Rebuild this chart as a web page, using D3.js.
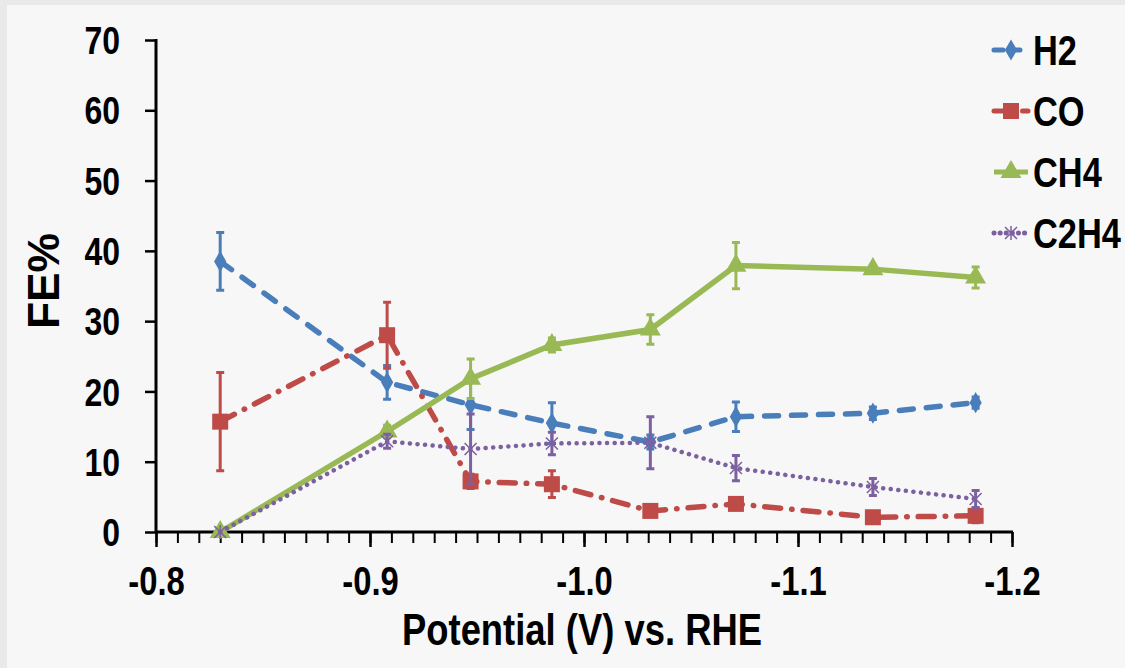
<!DOCTYPE html>
<html>
<head>
<meta charset="utf-8">
<script src="https://cdn.jsdelivr.net/npm/d3@7"></script>
<style>
  body { margin: 0; background: #e9e9e9; }
  svg { display: block; }
  text { font-family: "Liberation Sans", Arial, sans-serif; font-weight: bold; fill: #000; }
</style>
</head>
<body>
<div id="chart"></div>
<script>
// data
let potential = [-0.830, -0.908, -0.947, -0.985, -1.031, -1.071, -1.135, -1.183];
let h2 = [38.5, 21.3, 18.1, 15.5, 12.8, 16.4, 16.9, 18.4];
let h2Err = [4.1, 2.4, 3.5, 2.9, 1.0, 2.1, 0.9, 0.8];
let co = [15.7, 28.0, 7.2, 6.8, 3.0, 4.0, 2.1, 2.3];
let coErr = [7.0, 4.7, 1.0, 1.9, 0.8, 0.8, 0.7, 1.0];
let ch4 = [0, 14.3, 21.8, 26.6, 28.8, 37.9, 37.4, 36.2];
let ch4Err = [0, 0.9, 2.8, 1.0, 2.1, 3.3, 0.4, 1.5];
let c2h4 = [0, 12.9, 11.8, 12.6, 12.7, 9.1, 6.4, 4.7];
let c2h4Err = [0, 1.0, 5.0, 1.6, 3.7, 1.8, 1.2, 1.2];

let xTicks = [-0.8, -0.9, -1.0, -1.1, -1.2];
let yTicks = [0, 10, 20, 30, 40, 50, 60, 70];

let series = [
    { name: 'H2', values: h2, err: h2Err, color: '#4a7ebb', dash: '14,13', marker: 'diamond' },
    { name: 'CO', values: co, err: coErr, color: '#be4b48', dash: '16,11,0.5,11', marker: 'square' },
    { name: 'CH4', values: ch4, err: ch4Err, color: '#98b954', dash: null, marker: 'triangle' },
    { name: 'C2H4', values: c2h4, err: c2h4Err, color: '#7d60a0', dash: '0.1,7.5', marker: 'star' }
];

let svgWidth = 1125;
let svgHeight = 668;
// horizontal squeeze to mimic the narrow bold face of the original
let squeeze = 0.82;

let svg = d3.select('#chart').append('svg')
    .attr('width', svgWidth)
    .attr('height', svgHeight);

// inner panel
svg.append('rect')
    .attr('x', 7).attr('y', 5)
    .attr('width', svgWidth - 7).attr('height', svgHeight - 5)
    .attr('fill', '#f7f7f7');

let x = d3.scaleLinear().domain([-0.8, -1.2]).range([156, 1012]);
let y = d3.scaleLinear().domain([0, 70]).range([532, 40]);

// x axis: minor ticks then major ticks with labels
let minorTicks = d3.range(0, 41).map(i => -0.8 - i * 0.01);
svg.append('g')
    .attr('transform', `translate(0, ${y(0)})`)
    .call(d3.axisBottom(x).tickValues(minorTicks).tickSize(11).tickSizeOuter(0).tickFormat(''))
    .call(g => g.select('.domain').remove())
    .call(g => g.selectAll('line').attr('stroke', '#000').attr('stroke-width', 2));

let xAxis = svg.append('g')
    .attr('transform', `translate(0, ${y(0)})`)
    .call(d3.axisBottom(x).tickValues(xTicks).tickSize(15).tickSizeOuter(0));
xAxis.select('.domain').attr('stroke', '#000').attr('stroke-width', 3).attr('d', `M${x(-0.8) - 1},0H${x(-1.2) + 1}`);
xAxis.selectAll('line').attr('stroke', '#000').attr('stroke-width', 2.5);
xAxis.selectAll('text')
    .attr('y', 49).attr('dy', '0.35em')
    .attr('transform', `scale(${squeeze},1)`)
    .style('font-size', '40px')
    .text(d => d3.format('.1f')(d).replace('−', '-'));

// y axis
let yAxis = svg.append('g')
    .attr('transform', `translate(${x(-0.8)}, 0)`)
    .call(d3.axisLeft(y).tickValues(yTicks).tickSize(11).tickSizeOuter(0));
yAxis.select('.domain').attr('stroke', '#000').attr('stroke-width', 3).attr('d', `M0,${y(70) - 1}V${y(0)}`);
yAxis.selectAll('line').attr('stroke', '#000').attr('stroke-width', 2.5);
yAxis.selectAll('text')
    .attr('x', -36 / squeeze)
    .attr('dy', '0.35em')
    .attr('transform', `scale(${squeeze},1)`)
    .style('font-size', '39px');

// axis titles
svg.append('text')
    .attr('transform', `translate(59, 281) rotate(-90)`)
    .attr('text-anchor', 'middle')
    .attr('textLength', 96)
    .attr('lengthAdjust', 'spacingAndGlyphs')
    .style('font-size', '44px')
    .text('FE%');

svg.append('text')
    .attr('x', 582).attr('y', 645)
    .attr('text-anchor', 'middle')
    .attr('textLength', 360)
    .attr('lengthAdjust', 'spacingAndGlyphs')
    .style('font-size', '44px')
    .text('Potential (V) vs. RHE');

// marker drawing
function drawMarker(g, type, color, cx, cy) {
    if (type === 'diamond') {
        g.append('path')
            .attr('d', d3.symbol(d3.symbolDiamond, 130)())
            .attr('transform', `translate(${cx},${cy})`)
            .attr('fill', color);
    } else if (type === 'square') {
        g.append('rect')
            .attr('x', cx - 8).attr('y', cy - 8)
            .attr('width', 16).attr('height', 16)
            .attr('fill', color);
    } else if (type === 'triangle') {
        g.append('path')
            .attr('d', d3.symbol(d3.symbolTriangle, 190)())
            .attr('transform', `translate(${cx},${cy})`)
            .attr('fill', color);
    } else {
        g.append('path')
            .attr('d', 'M-6,-6L6,6M-6,6L6,-6M0,-7V7')
            .attr('transform', `translate(${cx},${cy})`)
            .attr('stroke', color)
            .attr('stroke-width', 1.5)
            .attr('fill', 'none');
    }
}

let line = d3.line()
    .x(d => x(d[0]))
    .y(d => y(d[1]));

// draw each series: lines, error bars, markers
series.forEach(function (s) {
    let pts = potential.map((p, i) => [p, s.values[i], s.err[i]]);
    let g = svg.append('g');

    g.append('path')
        .datum(pts)
        .attr('d', line)
        .attr('fill', 'none')
        .attr('stroke', s.color)
        .attr('stroke-width', s.marker === 'star' ? 4.5 : 5.5)
        .attr('stroke-linecap', s.dash ? 'round' : 'butt')
        .attr('stroke-dasharray', s.dash);

    pts.filter(d => d[2] > 0).forEach(function (d) {
        let cx = x(d[0]);
        let top = y(d[1] + d[2]);
        let bot = y(d[1] - d[2]);
        g.append('path')
            .attr('d', `M${cx},${top}V${bot}M${cx - 4},${top}H${cx + 4}M${cx - 4},${bot}H${cx + 4}`)
            .attr('stroke', s.color)
            .attr('stroke-width', 3)
            .attr('fill', 'none');
    });

    pts.forEach(d => drawMarker(g, s.marker, s.color, x(d[0]), y(d[1])));
});

// legend
let legendY = [50, 111, 172, 233];
series.forEach(function (s, i) {
    let g = svg.append('g').attr('transform', `translate(0, ${legendY[i]})`);
    g.append('path')
        .attr('d', 'M994,0H1028')
        .attr('stroke', s.color)
        .attr('stroke-width', 5)
        .attr('stroke-linecap', s.dash ? 'round' : 'butt')
        .attr('stroke-dasharray', s.dash ? (s.marker === 'star' ? '0.1,6' : (s.marker === 'square' ? '12,8,0.5,8' : '9,8')) : null)
        .attr('fill', 'none');
    drawMarker(g, s.marker, s.color, 1011, 0);
    g.append('g')
        .attr('transform', `translate(1033, 0) scale(0.8, 1)`)
        .append('text')
        .attr('x', 0).attr('y', 0).attr('dy', '0.35em')
        .style('font-size', '43px')
        .text(s.name);
});
</script>
</body>
</html>
